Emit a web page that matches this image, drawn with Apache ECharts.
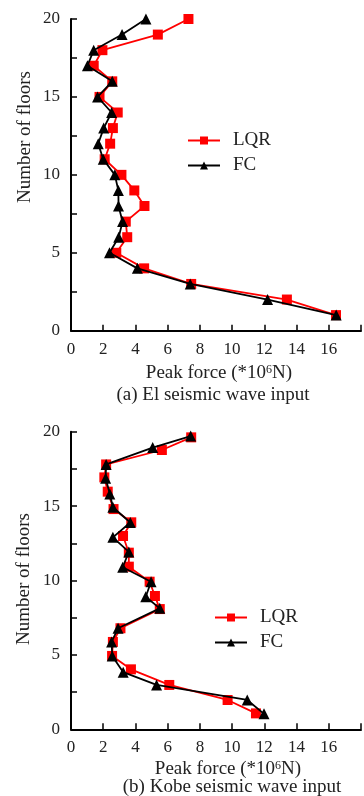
<!DOCTYPE html>
<html>
<head>
<meta charset="utf-8">
<script src="https://cdn.jsdelivr.net/npm/echarts@6/dist/echarts.min.js"></script>
<style>html,body{margin:0;padding:0;background:#fff;}#c{width:364px;height:796px;}</style>
</head>
<body>
<div id="c"></div>
<script>
// ---- Data ----
const xTicks = [0, 2, 4, 6, 8, 10, 12, 14, 16];
const yTicks = [0, 5, 10, 15, 20];
const seriesNames = ['LQR', 'FC'];

// (a) El seismic wave input
const floorsEl = [20, 19, 18, 17, 16, 15, 14, 13, 12, 11, 10, 9, 8, 7, 6, 5, 4, 3, 2, 1];
const lqrEl = [7.29, 5.39, 1.95, 1.41, 2.56, 1.77, 2.9, 2.6, 2.43, 2.09, 3.13, 3.93, 4.56, 3.4, 3.49, 2.81, 4.54, 7.46, 13.4, 16.45];
const fcEl  = [4.65, 3.17, 1.41, 1.02, 2.56, 1.65, 2.52, 2.03, 1.69, 2.0, 2.72, 2.94, 2.95, 3.2, 2.96, 2.39, 4.12, 7.4, 12.2, 16.46];

// (b) Kobe seismic wave input
const floorsKobeLqr = [19.62, 18.77, 17.8, 16.93, 15.97, 14.8, 13.91, 12.99, 11.87, 10.93, 9.92, 8.96, 8.08, 6.79, 5.87, 4.93, 4.03, 2.98, 1.97, 1.07];
const lqrKobe       = [7.46, 5.64, 2.18, 2.07, 2.28, 2.64, 3.74, 3.23, 3.59, 3.59, 4.88, 5.21, 5.51, 3.07, 2.6, 2.55, 3.72, 6.1, 9.72, 11.48];
const floorsKobeFc  = [19.71, 18.93, 17.8, 16.87, 15.81, 14.92, 13.9, 12.9, 11.92, 10.89, 9.92, 8.91, 8.13, 6.79, 5.87, 4.93, 3.84, 2.98, 1.97, 1.04];
const fcKobe        = [7.43, 5.07, 2.18, 2.15, 2.41, 2.6, 3.68, 2.6, 3.59, 3.21, 4.97, 4.64, 5.51, 2.92, 2.52, 2.56, 3.24, 5.31, 10.94, 11.98];

// ---- Build chart ----
const FONT = '"Liberation Serif", "Times New Roman", serif';
const pairs = (xs, ys) => xs.map((x, i) => [x, ys[i]]);

function xAxisCfg(gi) {
  return {
    type: 'value', gridIndex: gi, min: 0, max: 18, interval: 2,
    axisLine: { show: true, lineStyle: { color: '#000', width: 2 } },
    axisTick: { show: true, inside: true, length: 6, lineStyle: { color: '#000', width: 1.5 } },
    axisLabel: { color: '#222', fontFamily: FONT, fontSize: 17, margin: 10,
      formatter: v => xTicks.indexOf(v) >= 0 ? String(v) : '' },
    splitLine: { show: false }
  };
}
function yAxisCfg(gi) {
  return {
    type: 'value', gridIndex: gi, min: 0, max: 20, interval: 2.5,
    axisLine: { show: true, lineStyle: { color: '#000', width: 2 } },
    axisTick: { show: true, inside: true, length: 6, lineStyle: { color: '#000', width: 1.5 } },
    axisLabel: { color: '#222', fontFamily: FONT, fontSize: 17, margin: 11,
      formatter: v => yTicks.indexOf(v) >= 0 ? String(v) : '' },
    splitLine: { show: false }
  };
}
function lineSeries(name, gi, data) {
  const isL = name === 'LQR';
  return {
    name: name, type: 'line', xAxisIndex: gi, yAxisIndex: gi, data: data,
    symbol: isL ? 'rect' : 'triangle', symbolSize: isL ? 10 : 11,
    lineStyle: { color: isL ? '#ff0000' : '#000', width: 1.8 },
    itemStyle: { color: isL ? '#ff0000' : '#000' },
    z: isL ? 2 : 3, animation: false, clip: false
  };
}
function legendCfg(left, top) {
  return {
    data: seriesNames, orient: 'vertical', left: left, top: top,
    itemWidth: 32, itemHeight: 10, itemGap: 6,
    textStyle: { fontFamily: FONT, fontSize: 19, color: '#222', padding: [0, 0, 0, 8] },
    selectedMode: false
  };
}
function label(x, y, text, rot) {
  return {
    type: 'text', x: x, y: y, rotation: rot || 0,
    style: {
      text: text, fill: '#222', font: '19px ' + FONT, align: 'center', verticalAlign: 'middle',
      rich: { s: { fontSize: 12, verticalAlign: 'top', fontFamily: FONT, fill: '#222' } }
    }
  };
}

const chart = echarts.init(document.getElementById('c'), null, { renderer: 'canvas' });
chart.setOption({
  backgroundColor: '#fff',
  animation: false,
  grid: [
    { left: 71, right: -24, top: 19, height: 311.7 },
    { left: 71, right: -24, top: 431.7, height: 297.6 }
  ],
  xAxis: [xAxisCfg(0), xAxisCfg(1)],
  yAxis: [yAxisCfg(0), yAxisCfg(1)],
  legend: [legendCfg(182, 126), legendCfg(209, 603)],
  series: [
    lineSeries('LQR', 0, pairs(lqrEl, floorsEl)),
    lineSeries('FC', 0, pairs(fcEl, floorsEl)),
    lineSeries('LQR', 1, pairs(lqrKobe, floorsKobeLqr)),
    lineSeries('FC', 1, pairs(fcKobe, floorsKobeFc))
  ],
  graphic: [
    label(219, 373, 'Peak force (*10{s|6}N)'),
    label(213, 395, '(a) El seismic wave input'),
    label(25, 137, 'Number of floors', Math.PI / 2),
    label(228, 769, 'Peak force (*10{s|6}N)'),
    label(232, 787, '(b) Kobe seismic wave input'),
    label(24, 579, 'Number of floors', Math.PI / 2)
  ]
});
</script>
</body>
</html>
